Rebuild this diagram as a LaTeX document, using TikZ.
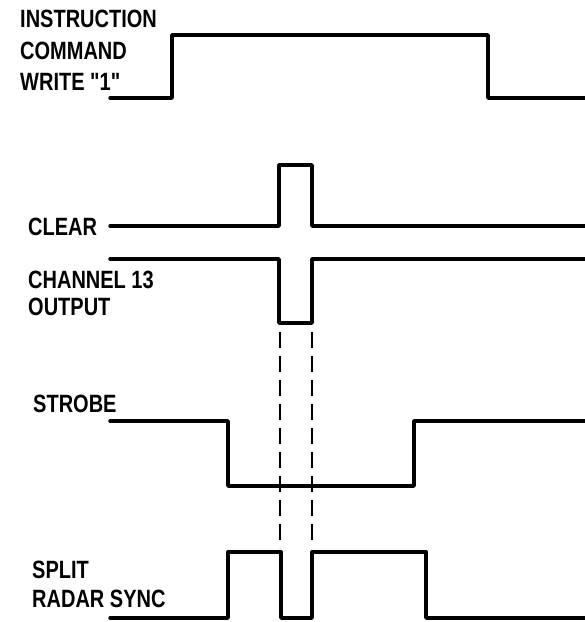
\documentclass[tikz,border=0pt]{standalone}
\usepackage{fontspec}
\newfontfamily\lblfont{Liberation Sans}[FakeStretch=0.8]
\begin{document}
\begin{tikzpicture}[x=1pt,y=-1pt,
  wave/.style={line width=3.4pt,line join=round,line cap=round},
  guide/.style={line width=2pt,dash pattern=on 16pt off 8pt},
  lbl/.style={anchor=base west,inner sep=0pt,font=\lblfont\fontsize{25}{30}\selectfont\bfseries}]
\useasboundingbox (0,0) rectangle (585,622);
% labels
\node[lbl] (l1) at (20,27) {INSTRUCTION};
\node[lbl] (l2) at (20,59) {COMMAND};
\node[lbl] (l3) at (20,90) {WRITE "1"};
\node[lbl] (clr) at (28,235) {CLEAR};
\node[lbl] (ch1) at (28,288) {CHANNEL 13};
\node[lbl] (ch2) at (28,315) {OUTPUT};
\node[lbl] (stb) at (33,412) {STROBE};
\node[lbl] (sp1) at (32,578) {SPLIT};
\node[lbl] (sp2) at (32,607) {RADAR SYNC};
% instruction command
\draw[wave] (110,98) -- (172,98) -- (172,35) -- (488,35) -- (488,98) -- (585,98);
% clear
\draw[wave] (110,226) -- (279,226) -- (279,165) -- (312,165) -- (312,226) -- (585,226);
% channel 13 output
\draw[wave] (110,259) -- (279,259) -- (279,323) -- (312,323) -- (312,259) -- (585,259);
% dashed guides
\draw[guide] (280,332) -- (280,548);
\draw[guide] (312,332) -- (312,542);
% strobe
\draw[wave] (110,421) -- (228,421) -- (228,486) -- (414,486) -- (414,421) -- (585,421);
% split radar sync
\draw[wave] (110,618) -- (228,618) -- (228,552) -- (281,552) -- (281,618) -- (312,618) -- (312,552) -- (426,552) -- (426,618) -- (585,618);
\end{tikzpicture}
\end{document}
